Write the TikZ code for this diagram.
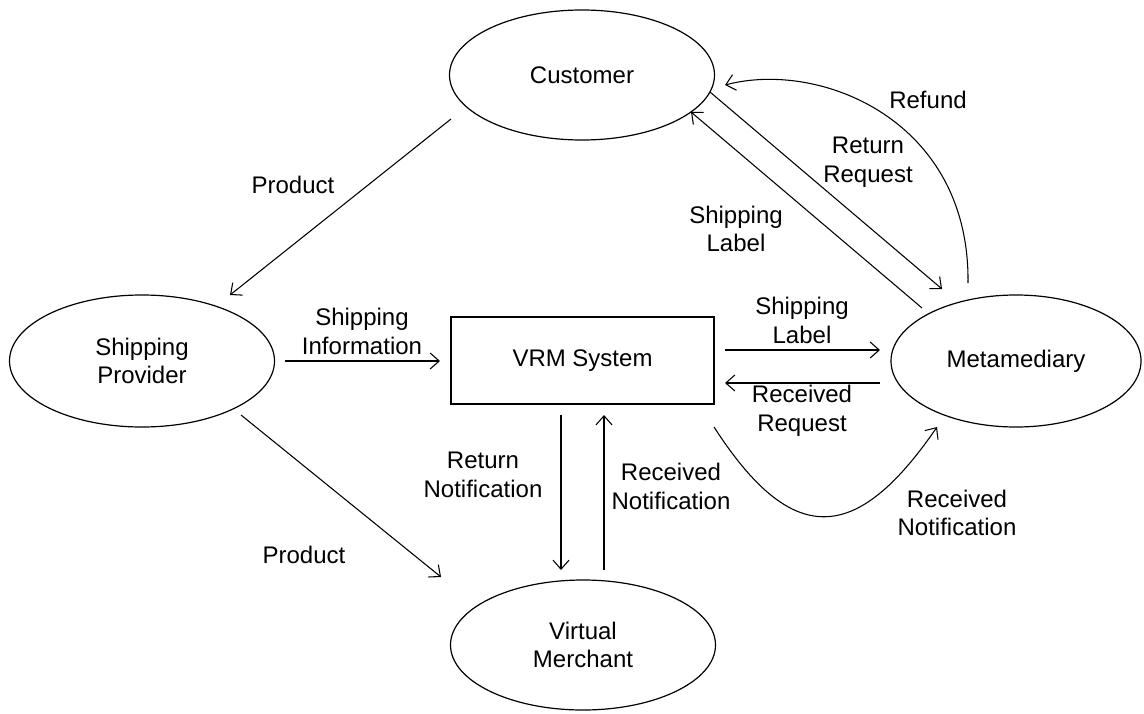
\documentclass[tikz,border=0pt]{standalone}
\usepackage{fontspec}
\setmainfont{Liberation Sans}
\usetikzlibrary{shapes.geometric,arrows.meta,calc}
\begin{document}
\begin{tikzpicture}[x=0.75pt,y=-0.75pt,
  every node/.style={font=\fontsize{18pt}{21.5pt}\selectfont},
  actor/.style={draw,ellipse,line width=0.9pt,inner sep=0pt,
    minimum width=198.75pt,minimum height=97.5pt,align=center},
  sysbox/.style={draw,rectangle,line width=0.9pt,inner sep=0pt,
    minimum width=197.25pt,minimum height=65.25pt},
  flow/.style={line width=0.8pt,-{Straight Barb[length=6.8pt,width=12pt]}},
  lbl/.style={align=center,inner sep=0pt}]
\useasboundingbox (0,0) rectangle (1144,713);

% parties and the central system
\node[actor] (cust) at (582,75) {Customer};
\node[actor,minimum height=99pt] (sp) at (142,361) {Shipping\\Provider};
\node[actor,minimum width=187.5pt,minimum height=99pt] (meta) at (1016,361) {Metamediary};
\node[actor] (vm) at (583,645) {Virtual\\Merchant};
\node[sysbox] (vrm) at (582.5,360.5) {VRM System};

% end points of the flows
\coordinate (c1) at ($(cust)+(-131,44)$);
\coordinate (c9) at ($(cust)+(109,37)$);
\coordinate (c10) at ($(cust)+(128,17)$);
\coordinate (c11) at ($(cust)+(143,10)$);
\coordinate (s1) at ($(sp)+(88,-66)$);
\coordinate (s2) at ($(sp)+(99,54)$);
\coordinate (s3) at ($(sp)+(143,0)$);
\coordinate (r3) at ($(vrm)+(-142.5,0.5)$);
\coordinate (r4) at ($(vrm)+(142.5,-10.5)$);
\coordinate (r5) at ($(vrm)+(142.5,22.5)$);
\coordinate (r6) at ($(vrm)+(-21.5,54.5)$);
\coordinate (r7) at ($(vrm)+(21.5,54.5)$);
\coordinate (r8) at ($(vrm)+(131.5,66.5)$);
\coordinate (v2) at ($(vm)+(-142,-68)$);
\coordinate (v6) at ($(vm)+(-22,-75)$);
\coordinate (v7) at ($(vm)+(21,-75)$);
\coordinate (m4) at ($(meta)+(-136,-11)$);
\coordinate (m5) at ($(meta)+(-136,22)$);
\coordinate (m8) at ($(meta)+(-79,66)$);
\coordinate (m9) at ($(meta)+(-94,-53)$);
\coordinate (m10) at ($(meta)+(-74,-72)$);
\coordinate (m11) at ($(meta)+(-48,-78)$);

% flows
\draw[flow] (c1) -- (s1);
\draw[flow] (s2) -- (v2);
\draw[flow] (s3) -- (r3);
\draw[flow] (r4) -- (m4);
\draw[flow] (m5) -- (r5);
\draw[flow] (r6) -- (v6);
\draw[flow] (v7) -- (r7);
\draw[flow] (r8) .. controls (792,548) and (856,545) .. (m8);
\draw[flow] (m9) -- (c9);
\draw[flow] (c10) -- (m10);
\draw[flow] (m11) .. controls (970,120) and (820,60) .. (c11);

% flow labels
\node[lbl] (l1) at (293,185) {Product};
\node[lbl] (l2) at (304,555) {Product};
\node[lbl] (l3) at (362,331.5) {Shipping\\Information};
\node[lbl] (l4) at (802,320.5) {Shipping\\Label};
\node[lbl] (l5) at (802,411) {Received\\Request};
\node[lbl] (l6) at (483,475) {Return\\Notification};
\node[lbl] (l7) at (671,486.5) {Received\\Notification};
\node[lbl] (l8) at (957,513) {Received\\Notification};
\node[lbl] (l9) at (736,229) {Shipping\\Label};
\node[lbl] (l10) at (868,162.5) {Return\\Request};
\node[lbl] (l11) at (928,100) {Refund};
\end{tikzpicture}
\end{document}
